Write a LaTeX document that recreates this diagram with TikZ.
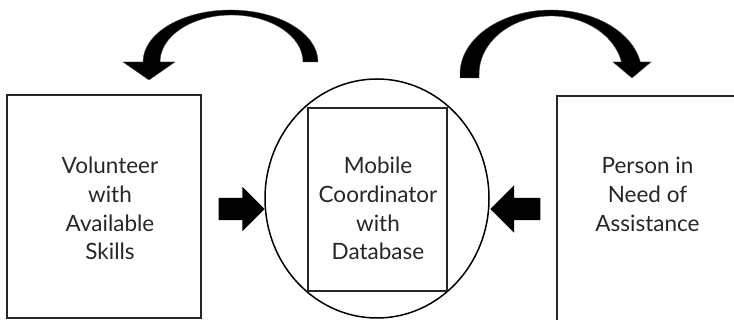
\documentclass[tikz,border=0pt]{standalone}
\usepackage{fontspec}
\setmainfont{Lato}
\usetikzlibrary{shapes.geometric,shapes.arrows}

\begin{document}
\begin{tikzpicture}[
  x=1pt,y=1pt,
  box/.style={rectangle,draw=black!85,line width=1.8pt,inner sep=0pt},
  txt/.style={align=center,inner sep=0pt,anchor=north,text=black!85,
    font=\fontsize{22.5}{28.7}\selectfont},
  blk/.style={single arrow,fill=black,draw=none,inner sep=0pt,
    text height=11pt,text depth=11pt,
    single arrow head extend=11pt,single arrow head indent=0pt},
  curv/.style={fill=black,draw=black!70,line width=0.4pt}
]
  \useasboundingbox (0,0) rectangle (734,320);

  \node[box,minimum width=194pt,minimum height=223pt] (vol) at (104,113.5) {};
  \node[box,anchor=north west,minimum width=200pt,minimum height=260pt] (pin) at (556,225) {};
  \node[ellipse,draw=black,line width=1.5pt,inner sep=0pt,
    minimum width=224pt,minimum height=239pt] (coord) at (377,121.5) {};
  \node[box,line width=1.3pt,minimum width=139pt,minimum height=183pt] (db) at (377.5,120.5) {};

  \node[txt] (voltxt) at (110,163) {Volunteer\\with\\Available\\Skills};
  \node[txt] (dbtxt) at (378,163) {Mobile\\Coordinator\\with\\Database};
  \node[txt] (pintxt) at (647.5,163) {Person in\\Need of\\Assistance};

  % block arrows into the coordinator
  \node[blk,minimum height=46pt] (inl) at (236,111) {};
  \node[blk,shape border rotate=180,minimum height=50pt,
    single arrow head extend=12.5pt] (inr) at (521,111) {};

  % curved arrows out of the coordinator
  \fill[curv] (318,258) arc[start angle=0,end angle=180,x radius=87.5,y radius=52]
    -- (123,258) -- (149,240) -- (175,258) -- (160,258)
    arc[start angle=180,end angle=0,x radius=71.5,y radius=47] -- cycle;
  \fill[curv] (460,242) -- (460,246) arc[start angle=180,end angle=10.8,x radius=91,y radius=64]
    -- (651,258) -- (632,242) -- (613,258) -- (621.5,258)
    arc[start angle=11.9,end angle=180,x radius=72,y radius=58] -- (479,242) -- cycle;
\end{tikzpicture}
\end{document}
